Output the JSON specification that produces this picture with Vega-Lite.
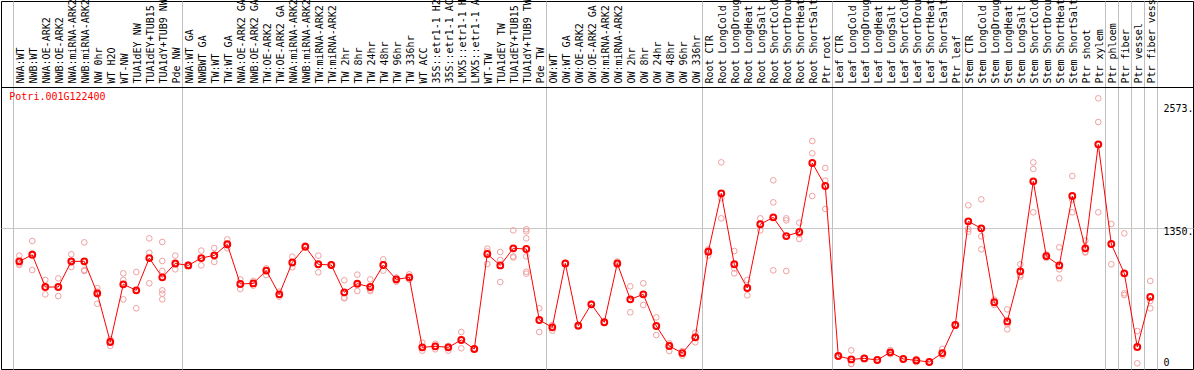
{
  "$schema": "https://vega.github.io/schema/vega-lite/v6.json",
  "width": 1192,
  "height": 368,
  "autosize": {"type": "none"},
  "padding": {"left": 1, "top": 1, "right": 1, "bottom": 1},
  "background": "white",
  "config": {"view": {"stroke": "black", "strokeWidth": 1}, "font": "DejaVu Sans Mono"},
  "title": {"text": "Potri.001G122400", "orient": "bottom", "anchor": "start", "frame": "group", "offset": -272, "baseline": "middle", "align": "left", "dx": 8.3, "font": "DejaVu Sans Mono", "fontSize": 10, "fontWeight": "normal", "color": "#ff0000"},
  "data": {"values": [
    {"sample":"NWA:WT","kind":"mean","value":1021},
    {"sample":"NWB:WT","kind":"mean","value":1087},
    {"sample":"NWA:OE-ARK2","kind":"mean","value":766},
    {"sample":"NWB:OE-ARK2","kind":"mean","value":766},
    {"sample":"NWA:miRNA-ARK2","kind":"mean","value":1021},
    {"sample":"NWB:miRNA-ARK2","kind":"mean","value":1021},
    {"sample":"NW 0hr","kind":"mean","value":703},
    {"sample":"WT H2O","kind":"mean","value":219},
    {"sample":"WT-NW","kind":"mean","value":793},
    {"sample":"TUA1dEY NW","kind":"mean","value":733},
    {"sample":"TUA1dEY+TUB15 NW","kind":"mean","value":1054},
    {"sample":"TUA1dY+TUB9 NW","kind":"mean","value":862},
    {"sample":"Pde NW","kind":"mean","value":1001},
    {"sample":"NWA:WT GA","kind":"mean","value":981},
    {"sample":"NWBWT GA","kind":"mean","value":1054},
    {"sample":"TW:WT","kind":"mean","value":1081},
    {"sample":"TW:WT GA","kind":"mean","value":1191},
    {"sample":"NWA:OE-ARK2 GA","kind":"mean","value":796},
    {"sample":"NWB:OE-ARK2 GA","kind":"mean","value":802},
    {"sample":"TW:OE-ARK2","kind":"mean","value":929},
    {"sample":"TW:OE-ARK2 GA","kind":"mean","value":693},
    {"sample":"NWA:miRNA-ARK2 GA","kind":"mean","value":1011},
    {"sample":"NWB:miRNA-ARK2 GA","kind":"mean","value":1167},
    {"sample":"TW:miRNA-ARK2","kind":"mean","value":992},
    {"sample":"TW:miRNA-ARK2 GA","kind":"mean","value":985},
    {"sample":"TW 2hr","kind":"mean","value":713},
    {"sample":"TW 8hr","kind":"mean","value":799},
    {"sample":"TW 24hr","kind":"mean","value":766},
    {"sample":"TW 48hr","kind":"mean","value":985},
    {"sample":"TW 96hr","kind":"mean","value":842},
    {"sample":"TW 336hr","kind":"mean","value":862},
    {"sample":"WT ACC","kind":"mean","value":166},
    {"sample":"35S::etr1-1 H2O","kind":"mean","value":176},
    {"sample":"35S::etr1-1 ACC","kind":"mean","value":166},
    {"sample":"LMX5::etr1-1 H2O","kind":"mean","value":239},
    {"sample":"LMX5::etr1-1 ACC","kind":"mean","value":149},
    {"sample":"WT-TW","kind":"mean","value":1094},
    {"sample":"TUA1dEY TW","kind":"mean","value":981},
    {"sample":"TUA1dEY+TUB15 TW","kind":"mean","value":1151},
    {"sample":"TUA1dY+TUB9 TW","kind":"mean","value":1144},
    {"sample":"Pde TW","kind":"mean","value":438},
    {"sample":"OW:WT","kind":"mean","value":365},
    {"sample":"OW:WT GA","kind":"mean","value":1001},
    {"sample":"OW:OE-ARK2","kind":"mean","value":381},
    {"sample":"OW:OE-ARK2 GA","kind":"mean","value":594},
    {"sample":"OW:miRNA-ARK2","kind":"mean","value":415},
    {"sample":"OW:miRNA-ARK2 GA","kind":"mean","value":1001},
    {"sample":"OW 2hr","kind":"mean","value":643},
    {"sample":"OW 8hr","kind":"mean","value":693},
    {"sample":"OW 24hr","kind":"mean","value":378},
    {"sample":"OW 48hr","kind":"mean","value":179},
    {"sample":"OW 96hr","kind":"mean","value":109},
    {"sample":"OW 336hr","kind":"mean","value":265},
    {"sample":"Root CTR","kind":"mean","value":1117},
    {"sample":"Root LongCold","kind":"mean","value":1698},
    {"sample":"Root LongDrought","kind":"mean","value":992},
    {"sample":"Root LongHeat","kind":"mean","value":756},
    {"sample":"Root LongSalt","kind":"mean","value":1390},
    {"sample":"Root ShortCold","kind":"mean","value":1459},
    {"sample":"Root ShortDrought","kind":"mean","value":1273},
    {"sample":"Root ShortHeat","kind":"mean","value":1313},
    {"sample":"Root ShortSalt","kind":"mean","value":2000},
    {"sample":"Ptr root","kind":"mean","value":1771},
    {"sample":"Leaf CTR","kind":"mean","value":80},
    {"sample":"Leaf LongCold","kind":"mean","value":46},
    {"sample":"Leaf LongDrought","kind":"mean","value":56},
    {"sample":"Leaf LongHeat","kind":"mean","value":40},
    {"sample":"Leaf LongSalt","kind":"mean","value":116},
    {"sample":"Leaf ShortCold","kind":"mean","value":50},
    {"sample":"Leaf ShortDrought","kind":"mean","value":36},
    {"sample":"Leaf ShortHeat","kind":"mean","value":20},
    {"sample":"Leaf ShortSalt","kind":"mean","value":109},
    {"sample":"Ptr leaf","kind":"mean","value":388},
    {"sample":"Stem CTR","kind":"mean","value":1419},
    {"sample":"Stem LongCold","kind":"mean","value":1350},
    {"sample":"Stem LongDrought","kind":"mean","value":614},
    {"sample":"Stem LongHeat","kind":"mean","value":424},
    {"sample":"Stem LongSalt","kind":"mean","value":922},
    {"sample":"Stem ShortCold","kind":"mean","value":1817},
    {"sample":"Stem ShortDrought","kind":"mean","value":1074},
    {"sample":"Stem ShortHeat","kind":"mean","value":981},
    {"sample":"Stem ShortSalt","kind":"mean","value":1671},
    {"sample":"Ptr shoot","kind":"mean","value":1151},
    {"sample":"Ptr xylem","kind":"mean","value":2185},
    {"sample":"Ptr phloem","kind":"mean","value":1194},
    {"sample":"Ptr fiber","kind":"mean","value":902},
    {"sample":"Ptr vessel","kind":"mean","value":169},
    {"sample":"Ptr fiber vessel","kind":"mean","value":667},

    {"sample":"NWA:WT","kind":"rep","value":1078},{"sample":"NWA:WT","kind":"rep","value":1000},{"sample":"NWA:WT","kind":"rep","value":985},
    {"sample":"NWB:WT","kind":"rep","value":1224},{"sample":"NWB:WT","kind":"rep","value":1101},{"sample":"NWB:WT","kind":"rep","value":935},
    {"sample":"NWA:OE-ARK2","kind":"rep","value":836},{"sample":"NWA:OE-ARK2","kind":"rep","value":766},{"sample":"NWA:OE-ARK2","kind":"rep","value":693},
    {"sample":"NWB:OE-ARK2","kind":"rep","value":852},{"sample":"NWB:OE-ARK2","kind":"rep","value":770},{"sample":"NWB:OE-ARK2","kind":"rep","value":676},
    {"sample":"NWA:miRNA-ARK2","kind":"rep","value":1091},{"sample":"NWA:miRNA-ARK2","kind":"rep","value":1010},{"sample":"NWA:miRNA-ARK2","kind":"rep","value":965},
    {"sample":"NWB:miRNA-ARK2","kind":"rep","value":1210},{"sample":"NWB:miRNA-ARK2","kind":"rep","value":935},{"sample":"NWB:miRNA-ARK2","kind":"rep","value":925},
    {"sample":"NW 0hr","kind":"rep","value":755},{"sample":"NW 0hr","kind":"rep","value":720},{"sample":"NW 0hr","kind":"rep","value":690},{"sample":"NW 0hr","kind":"rep","value":600},
    {"sample":"WT H2O","kind":"rep","value":245},{"sample":"WT H2O","kind":"rep","value":230},{"sample":"WT H2O","kind":"rep","value":180},
    {"sample":"WT-NW","kind":"rep","value":902},{"sample":"WT-NW","kind":"rep","value":836},{"sample":"WT-NW","kind":"rep","value":643},
    {"sample":"TUA1dEY NW","kind":"rep","value":915},{"sample":"TUA1dEY NW","kind":"rep","value":733},{"sample":"TUA1dEY NW","kind":"rep","value":554},
    {"sample":"TUA1dEY+TUB15 NW","kind":"rep","value":1250},{"sample":"TUA1dEY+TUB15 NW","kind":"rep","value":1107},{"sample":"TUA1dEY+TUB15 NW","kind":"rep","value":803},
    {"sample":"TUA1dY+TUB9 NW","kind":"rep","value":1214},{"sample":"TUA1dY+TUB9 NW","kind":"rep","value":1025},{"sample":"TUA1dY+TUB9 NW","kind":"rep","value":925},{"sample":"TUA1dY+TUB9 NW","kind":"rep","value":733},{"sample":"TUA1dY+TUB9 NW","kind":"rep","value":700},{"sample":"TUA1dY+TUB9 NW","kind":"rep","value":643},
    {"sample":"Pde NW","kind":"rep","value":1078},{"sample":"Pde NW","kind":"rep","value":990},{"sample":"Pde NW","kind":"rep","value":942},
    {"sample":"NWA:WT GA","kind":"rep","value":990},{"sample":"NWA:WT GA","kind":"rep","value":975},
    {"sample":"NWBWT GA","kind":"rep","value":1128},{"sample":"NWBWT GA","kind":"rep","value":1054},{"sample":"NWBWT GA","kind":"rep","value":981},
    {"sample":"TW:WT","kind":"rep","value":1154},{"sample":"TW:WT","kind":"rep","value":1075},{"sample":"TW:WT","kind":"rep","value":1015},
    {"sample":"TW:WT GA","kind":"rep","value":1240},{"sample":"TW:WT GA","kind":"rep","value":1180},{"sample":"TW:WT GA","kind":"rep","value":1151},
    {"sample":"NWA:OE-ARK2 GA","kind":"rep","value":842},{"sample":"NWA:OE-ARK2 GA","kind":"rep","value":800},{"sample":"NWA:OE-ARK2 GA","kind":"rep","value":746},
    {"sample":"NWB:OE-ARK2 GA","kind":"rep","value":826},{"sample":"NWB:OE-ARK2 GA","kind":"rep","value":800},{"sample":"NWB:OE-ARK2 GA","kind":"rep","value":780},
    {"sample":"TW:OE-ARK2","kind":"rep","value":952},{"sample":"TW:OE-ARK2","kind":"rep","value":935},{"sample":"TW:OE-ARK2","kind":"rep","value":885},
    {"sample":"TW:OE-ARK2 GA","kind":"rep","value":720},{"sample":"TW:OE-ARK2 GA","kind":"rep","value":690},{"sample":"TW:OE-ARK2 GA","kind":"rep","value":670},
    {"sample":"NWA:miRNA-ARK2 GA","kind":"rep","value":1068},{"sample":"NWA:miRNA-ARK2 GA","kind":"rep","value":1005},{"sample":"NWA:miRNA-ARK2 GA","kind":"rep","value":962},
    {"sample":"NWB:miRNA-ARK2 GA","kind":"rep","value":1180},{"sample":"NWB:miRNA-ARK2 GA","kind":"rep","value":1160},
    {"sample":"TW:miRNA-ARK2","kind":"rep","value":1078},{"sample":"TW:miRNA-ARK2","kind":"rep","value":990},{"sample":"TW:miRNA-ARK2","kind":"rep","value":912},
    {"sample":"TW:miRNA-ARK2 GA","kind":"rep","value":990},{"sample":"TW:miRNA-ARK2 GA","kind":"rep","value":980},
    {"sample":"TW 2hr","kind":"rep","value":833},{"sample":"TW 2hr","kind":"rep","value":660},{"sample":"TW 2hr","kind":"rep","value":653},
    {"sample":"TW 8hr","kind":"rep","value":889},{"sample":"TW 8hr","kind":"rep","value":790},{"sample":"TW 8hr","kind":"rep","value":726},
    {"sample":"TW 24hr","kind":"rep","value":842},{"sample":"TW 24hr","kind":"rep","value":740},{"sample":"TW 24hr","kind":"rep","value":726},
    {"sample":"TW 48hr","kind":"rep","value":1041},{"sample":"TW 48hr","kind":"rep","value":985},{"sample":"TW 48hr","kind":"rep","value":929},
    {"sample":"TW 96hr","kind":"rep","value":860},{"sample":"TW 96hr","kind":"rep","value":830},{"sample":"TW 96hr","kind":"rep","value":819},
    {"sample":"TW 336hr","kind":"rep","value":892},{"sample":"TW 336hr","kind":"rep","value":862},{"sample":"TW 336hr","kind":"rep","value":840},
    {"sample":"WT ACC","kind":"rep","value":212},{"sample":"WT ACC","kind":"rep","value":160},{"sample":"WT ACC","kind":"rep","value":133},
    {"sample":"35S::etr1-1 H2O","kind":"rep","value":202},{"sample":"35S::etr1-1 H2O","kind":"rep","value":180},{"sample":"35S::etr1-1 H2O","kind":"rep","value":146},
    {"sample":"35S::etr1-1 ACC","kind":"rep","value":180},{"sample":"35S::etr1-1 ACC","kind":"rep","value":170},{"sample":"35S::etr1-1 ACC","kind":"rep","value":133},
    {"sample":"LMX5::etr1-1 H2O","kind":"rep","value":318},{"sample":"LMX5::etr1-1 H2O","kind":"rep","value":245},{"sample":"LMX5::etr1-1 H2O","kind":"rep","value":156},
    {"sample":"LMX5::etr1-1 ACC","kind":"rep","value":155},{"sample":"LMX5::etr1-1 ACC","kind":"rep","value":145},
    {"sample":"WT-TW","kind":"rep","value":1147},{"sample":"WT-TW","kind":"rep","value":1120},{"sample":"WT-TW","kind":"rep","value":995},
    {"sample":"TUA1dEY TW","kind":"rep","value":1114},{"sample":"TUA1dEY TW","kind":"rep","value":1035},{"sample":"TUA1dEY TW","kind":"rep","value":816},
    {"sample":"TUA1dEY+TUB15 TW","kind":"rep","value":1330},{"sample":"TUA1dEY+TUB15 TW","kind":"rep","value":1071},{"sample":"TUA1dEY+TUB15 TW","kind":"rep","value":1060},
    {"sample":"TUA1dY+TUB9 TW","kind":"rep","value":1340},{"sample":"TUA1dY+TUB9 TW","kind":"rep","value":1320},{"sample":"TUA1dY+TUB9 TW","kind":"rep","value":1250},{"sample":"TUA1dY+TUB9 TW","kind":"rep","value":1071},{"sample":"TUA1dY+TUB9 TW","kind":"rep","value":918},{"sample":"TUA1dY+TUB9 TW","kind":"rep","value":899},
    {"sample":"Pde TW","kind":"rep","value":554},{"sample":"Pde TW","kind":"rep","value":440},{"sample":"Pde TW","kind":"rep","value":318},
    {"sample":"OW:WT","kind":"rep","value":388},{"sample":"OW:WT","kind":"rep","value":370},{"sample":"OW:WT","kind":"rep","value":332},
    {"sample":"OW:WT GA","kind":"rep","value":1005},{"sample":"OW:WT GA","kind":"rep","value":995},
    {"sample":"OW:OE-ARK2","kind":"rep","value":390},{"sample":"OW:OE-ARK2","kind":"rep","value":375},
    {"sample":"OW:OE-ARK2 GA","kind":"rep","value":600},{"sample":"OW:OE-ARK2 GA","kind":"rep","value":590},
    {"sample":"OW:miRNA-ARK2","kind":"rep","value":420},{"sample":"OW:miRNA-ARK2","kind":"rep","value":410},
    {"sample":"OW:miRNA-ARK2 GA","kind":"rep","value":1020},{"sample":"OW:miRNA-ARK2 GA","kind":"rep","value":985},
    {"sample":"OW 2hr","kind":"rep","value":773},{"sample":"OW 2hr","kind":"rep","value":643},{"sample":"OW 2hr","kind":"rep","value":514},
    {"sample":"OW 8hr","kind":"rep","value":803},{"sample":"OW 8hr","kind":"rep","value":693},{"sample":"OW 8hr","kind":"rep","value":587},
    {"sample":"OW 24hr","kind":"rep","value":464},{"sample":"OW 24hr","kind":"rep","value":380},{"sample":"OW 24hr","kind":"rep","value":288},
    {"sample":"OW 48hr","kind":"rep","value":206},{"sample":"OW 48hr","kind":"rep","value":190},{"sample":"OW 48hr","kind":"rep","value":129},
    {"sample":"OW 96hr","kind":"rep","value":129},{"sample":"OW 96hr","kind":"rep","value":110},{"sample":"OW 96hr","kind":"rep","value":83},
    {"sample":"OW 336hr","kind":"rep","value":312},{"sample":"OW 336hr","kind":"rep","value":265},{"sample":"OW 336hr","kind":"rep","value":216},
    {"sample":"Root CTR","kind":"rep","value":1141},{"sample":"Root CTR","kind":"rep","value":1130},{"sample":"Root CTR","kind":"rep","value":1078},
    {"sample":"Root LongCold","kind":"rep","value":2006},{"sample":"Root LongCold","kind":"rep","value":1648},{"sample":"Root LongCold","kind":"rep","value":1449},
    {"sample":"Root LongDrought","kind":"rep","value":1124},{"sample":"Root LongDrought","kind":"rep","value":952},{"sample":"Root LongDrought","kind":"rep","value":902},
    {"sample":"Root LongHeat","kind":"rep","value":836},{"sample":"Root LongHeat","kind":"rep","value":750},{"sample":"Root LongHeat","kind":"rep","value":683},
    {"sample":"Root LongSalt","kind":"rep","value":1449},{"sample":"Root LongSalt","kind":"rep","value":1390},{"sample":"Root LongSalt","kind":"rep","value":1330},
    {"sample":"Root ShortCold","kind":"rep","value":1827},{"sample":"Root ShortCold","kind":"rep","value":1608},{"sample":"Root ShortCold","kind":"rep","value":932},
    {"sample":"Root ShortDrought","kind":"rep","value":1449},{"sample":"Root ShortDrought","kind":"rep","value":1429},{"sample":"Root ShortDrought","kind":"rep","value":925},
    {"sample":"Root ShortHeat","kind":"rep","value":1406},{"sample":"Root ShortHeat","kind":"rep","value":1290},{"sample":"Root ShortHeat","kind":"rep","value":1244},
    {"sample":"Root ShortSalt","kind":"rep","value":2218},{"sample":"Root ShortSalt","kind":"rep","value":2096},{"sample":"Root ShortSalt","kind":"rep","value":1671},
    {"sample":"Ptr root","kind":"rep","value":1950},{"sample":"Ptr root","kind":"rep","value":1824},{"sample":"Ptr root","kind":"rep","value":1542},
    {"sample":"Leaf CTR","kind":"rep","value":85},{"sample":"Leaf CTR","kind":"rep","value":75},
    {"sample":"Leaf LongCold","kind":"rep","value":136},{"sample":"Leaf LongCold","kind":"rep","value":2},{"sample":"Leaf LongCold","kind":"rep","value":0},
    {"sample":"Leaf LongDrought","kind":"rep","value":60},{"sample":"Leaf LongDrought","kind":"rep","value":52},
    {"sample":"Leaf LongHeat","kind":"rep","value":45},{"sample":"Leaf LongHeat","kind":"rep","value":35},
    {"sample":"Leaf LongSalt","kind":"rep","value":139},{"sample":"Leaf LongSalt","kind":"rep","value":110},{"sample":"Leaf LongSalt","kind":"rep","value":99},
    {"sample":"Leaf ShortCold","kind":"rep","value":55},{"sample":"Leaf ShortCold","kind":"rep","value":45},
    {"sample":"Leaf ShortDrought","kind":"rep","value":50},{"sample":"Leaf ShortDrought","kind":"rep","value":20},
    {"sample":"Leaf ShortHeat","kind":"rep","value":25},{"sample":"Leaf ShortHeat","kind":"rep","value":15},
    {"sample":"Leaf ShortSalt","kind":"rep","value":149},{"sample":"Leaf ShortSalt","kind":"rep","value":95},{"sample":"Leaf ShortSalt","kind":"rep","value":83},
    {"sample":"Ptr leaf","kind":"rep","value":395},{"sample":"Ptr leaf","kind":"rep","value":380},
    {"sample":"Stem CTR","kind":"rep","value":1579},{"sample":"Stem CTR","kind":"rep","value":1343},{"sample":"Stem CTR","kind":"rep","value":1316},
    {"sample":"Stem LongCold","kind":"rep","value":1638},{"sample":"Stem LongCold","kind":"rep","value":1270},{"sample":"Stem LongCold","kind":"rep","value":1141},
    {"sample":"Stem LongDrought","kind":"rep","value":640},{"sample":"Stem LongDrought","kind":"rep","value":614},{"sample":"Stem LongDrought","kind":"rep","value":587},
    {"sample":"Stem LongHeat","kind":"rep","value":544},{"sample":"Stem LongHeat","kind":"rep","value":395},{"sample":"Stem LongHeat","kind":"rep","value":345},
    {"sample":"Stem LongSalt","kind":"rep","value":992},{"sample":"Stem LongSalt","kind":"rep","value":885},{"sample":"Stem LongSalt","kind":"rep","value":869},
    {"sample":"Stem ShortCold","kind":"rep","value":2006},{"sample":"Stem ShortCold","kind":"rep","value":1940},{"sample":"Stem ShortCold","kind":"rep","value":1509},
    {"sample":"Stem ShortDrought","kind":"rep","value":1091},{"sample":"Stem ShortDrought","kind":"rep","value":1074},{"sample":"Stem ShortDrought","kind":"rep","value":1055},
    {"sample":"Stem ShortHeat","kind":"rep","value":1161},{"sample":"Stem ShortHeat","kind":"rep","value":942},{"sample":"Stem ShortHeat","kind":"rep","value":852},
    {"sample":"Stem ShortSalt","kind":"rep","value":1870},{"sample":"Stem ShortSalt","kind":"rep","value":1631},{"sample":"Stem ShortSalt","kind":"rep","value":1509},
    {"sample":"Ptr shoot","kind":"rep","value":1227},{"sample":"Ptr shoot","kind":"rep","value":1117},{"sample":"Ptr shoot","kind":"rep","value":1109},
    {"sample":"Ptr xylem","kind":"rep","value":2643},{"sample":"Ptr xylem","kind":"rep","value":2407},{"sample":"Ptr xylem","kind":"rep","value":1509},
    {"sample":"Ptr phloem","kind":"rep","value":1393},{"sample":"Ptr phloem","kind":"rep","value":1194},{"sample":"Ptr phloem","kind":"rep","value":992},
    {"sample":"Ptr fiber","kind":"rep","value":1300},{"sample":"Ptr fiber","kind":"rep","value":703},{"sample":"Ptr fiber","kind":"rep","value":686},
    {"sample":"Ptr vessel","kind":"rep","value":328},{"sample":"Ptr vessel","kind":"rep","value":7},
    {"sample":"Ptr fiber vessel","kind":"rep","value":826},{"sample":"Ptr fiber vessel","kind":"rep","value":627},{"sample":"Ptr fiber vessel","kind":"rep","value":554}
  ]},
  "encoding": {
    "x": {"field": "sample", "type": "nominal",
      "scale": {"type": "band", "paddingInner": 0, "paddingOuter": 0.846, "align": 0.536, "domain": ["NWA:WT","NWB:WT","NWA:OE-ARK2","NWB:OE-ARK2","NWA:miRNA-ARK2","NWB:miRNA-ARK2","NW 0hr","WT H2O","WT-NW","TUA1dEY NW","TUA1dEY+TUB15 NW","TUA1dY+TUB9 NW","Pde NW","NWA:WT GA","NWBWT GA","TW:WT","TW:WT GA","NWA:OE-ARK2 GA","NWB:OE-ARK2 GA","TW:OE-ARK2","TW:OE-ARK2 GA","NWA:miRNA-ARK2 GA","NWB:miRNA-ARK2 GA","TW:miRNA-ARK2","TW:miRNA-ARK2 GA","TW 2hr","TW 8hr","TW 24hr","TW 48hr","TW 96hr","TW 336hr","WT ACC","35S::etr1-1 H2O","35S::etr1-1 ACC","LMX5::etr1-1 H2O","LMX5::etr1-1 ACC","WT-TW","TUA1dEY TW","TUA1dEY+TUB15 TW","TUA1dY+TUB9 TW","Pde TW","OW:WT","OW:WT GA","OW:OE-ARK2","OW:OE-ARK2 GA","OW:miRNA-ARK2","OW:miRNA-ARK2 GA","OW 2hr","OW 8hr","OW 24hr","OW 48hr","OW 96hr","OW 336hr","Root CTR","Root LongCold","Root LongDrought","Root LongHeat","Root LongSalt","Root ShortCold","Root ShortDrought","Root ShortHeat","Root ShortSalt","Ptr root","Leaf CTR","Leaf LongCold","Leaf LongDrought","Leaf LongHeat","Leaf LongSalt","Leaf ShortCold","Leaf ShortDrought","Leaf ShortHeat","Leaf ShortSalt","Ptr leaf","Stem CTR","Stem LongCold","Stem LongDrought","Stem LongHeat","Stem LongSalt","Stem ShortCold","Stem ShortDrought","Stem ShortHeat","Stem ShortSalt","Ptr shoot","Ptr xylem","Ptr phloem","Ptr fiber","Ptr vessel","Ptr fiber vessel"," ","  "]},
      "axis": {"orient": "top", "offset": -86, "title": null, "labelAngle": 270, "labelAlign": "left", "labelBaseline": "middle",
        "labelFont": "DejaVu Sans Mono", "labelFontSize": 10, "labelColor": "black", "labelPadding": 4, "labelOverlap": false, "labelLimit": 400,
        "ticks": false, "domain": true, "domainColor": "black", "domainWidth": 1,
        "tickBand": "extent", "tickOffset": -1.5, "labelOffset": 1.5,
        "grid": true, "gridColor": "#c0c0c0", "gridWidth": 1,
        "gridOpacity": {"condition": {"test": "datum.extra || indexof(['Pde NW','Pde TW','OW 336hr','Ptr root','Ptr leaf','Ptr xylem','Ptr phloem','Ptr fiber','Ptr vessel','Ptr fiber vessel'], datum.value) >= 0", "value": 1}, "value": 0}}},
    "y": {"field": "value", "type": "quantitative",
      "scale": {"domain": [-49.7, 3611.3], "nice": false, "zero": false},
      "axis": {"orient": "right", "offset": -32, "title": null, "values": [0, 1350, 2573], "format": "d",
        "labelExpr": "datum.value == 0 ? '0' : datum.label + '.'",
        "domain": false, "ticks": false, "labelPadding": 2, "labelFont": "DejaVu Sans Mono", "labelFontSize": 10, "labelColor": "black",
        "labelAlign": "left", "labelBaseline": "middle", "labelOverlap": false, "labelFlush": false, "labelBound": false,
        "labelOffset": {"condition": {"test": "datum.value == 0", "value": -2}, "value": 3},
        "grid": true, "gridColor": "#c8c8c8", "gridWidth": 1,
        "gridOpacity": {"condition": {"test": "datum.value == 1350", "value": 1}, "value": 0}}}
  },
  "layer": [
    {
      "transform": [{"filter": "datum.kind === 'rep'"}],
      "mark": {"type": "point", "shape": "circle", "filled": false, "color": "#f0a0a0", "strokeWidth": 1, "size": 32, "opacity": 1}
    },
    {
      "transform": [{"filter": "datum.kind === 'mean'"}],
      "mark": {"type": "line", "color": "#ff0000", "strokeWidth": 1},
      "encoding": {"order": {"value": null}}
    },
    {
      "transform": [{"filter": "datum.kind === 'mean'"}],
      "mark": {"type": "point", "shape": "circle", "filled": false, "color": "#ff0000", "strokeWidth": 2, "size": 34, "opacity": 1}
    }
  ]
}
